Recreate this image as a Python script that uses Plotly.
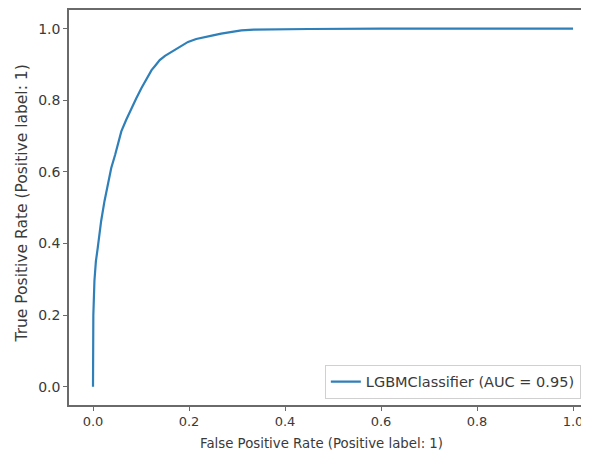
import plotly.graph_objects as go

fpr = [0.0, 0.0, 0.0007, 0.003, 0.006, 0.010, 0.017, 0.024, 0.030, 0.038, 0.046,
       0.059, 0.069, 0.080, 0.090, 0.101, 0.112, 0.122, 0.130, 0.139, 0.150,
       0.163, 0.180, 0.198, 0.215, 0.233, 0.250, 0.267, 0.288, 0.309, 0.335,
       0.365, 0.45, 0.6, 0.8, 1.0]
tpr = [0.0, 0.157, 0.20, 0.296, 0.35, 0.389, 0.463, 0.519, 0.555, 0.611, 0.647,
       0.713, 0.745, 0.778, 0.805, 0.834, 0.860, 0.884, 0.897, 0.912, 0.924,
       0.935, 0.950, 0.963, 0.971, 0.977, 0.981, 0.986, 0.991, 0.995, 0.997,
       0.998, 0.999, 1.0, 1.0, 1.0]

x_ticks = [0.0, 0.2, 0.4, 0.6, 0.8, 1.0]
y_ticks = [0.0, 0.2, 0.4, 0.6, 0.8, 1.0]
tick_text = ["0.0", "0.2", "0.4", "0.6", "0.8", "1.0"]
series_name = "LGBMClassifier (AUC = 0.95)"
x_title = "False Positive Rate (Positive label: 1)"
y_title = "True Positive Rate (Positive label: 1)"

font_family = "DejaVu Sans"
text_color = "#3a3a3a"
axis_color = "#6a6a6a"

fig = go.Figure()
fig.add_trace(go.Scatter(x=fpr, y=tpr, mode="lines", name=series_name,
                         line=dict(color="#2f7fb8", width=2.2)))

# page body has an 8px margin, so the figure is sized/offset to compensate
fig.update_layout(
    width=581, height=444,
    margin=dict(l=61, r=0, t=0, b=47),
    paper_bgcolor="white", plot_bgcolor="white",
    font=dict(family=font_family, size=13, color=text_color),
    showlegend=True,
    legend=dict(x=0.492, y=0.059, xanchor="left", yanchor="middle",
                bgcolor="rgba(255,255,255,0.9)", bordercolor="#d0d0d0", borderwidth=1,
                font=dict(size=14.5, color=text_color), itemwidth=30,
                tracegroupgap=0),
    xaxis=dict(range=[-0.05, 1.0333], tickvals=x_ticks, ticktext=tick_text,
               showgrid=False, zeroline=False, showline=True, linecolor=axis_color,
               linewidth=1.5, mirror=True, ticks="outside", ticklen=4,
               tickcolor=axis_color, tickwidth=1.2, tickfont=dict(size=13)),
    yaxis=dict(range=[-0.0508, 1.052], tickvals=y_ticks, ticktext=tick_text,
               showgrid=False, zeroline=False, showline=True, linecolor=axis_color,
               linewidth=1.5, ticks="outside", ticklen=4,
               tickcolor=axis_color, tickwidth=1.2, tickfont=dict(size=14)),
    annotations=[
        dict(text=x_title, xref="x", yref="paper", x=0.475, y=0, yshift=-38,
             xanchor="center", yanchor="middle", showarrow=False,
             font=dict(size=13.3, color=text_color)),
        dict(text=y_title, xref="paper", yref="paper", x=0, xshift=-47, y=0.51,
             textangle=-90, xanchor="center", yanchor="middle", showarrow=False,
             font=dict(size=15.5, color=text_color)),
    ],
)

fig.write_html("out.html")
